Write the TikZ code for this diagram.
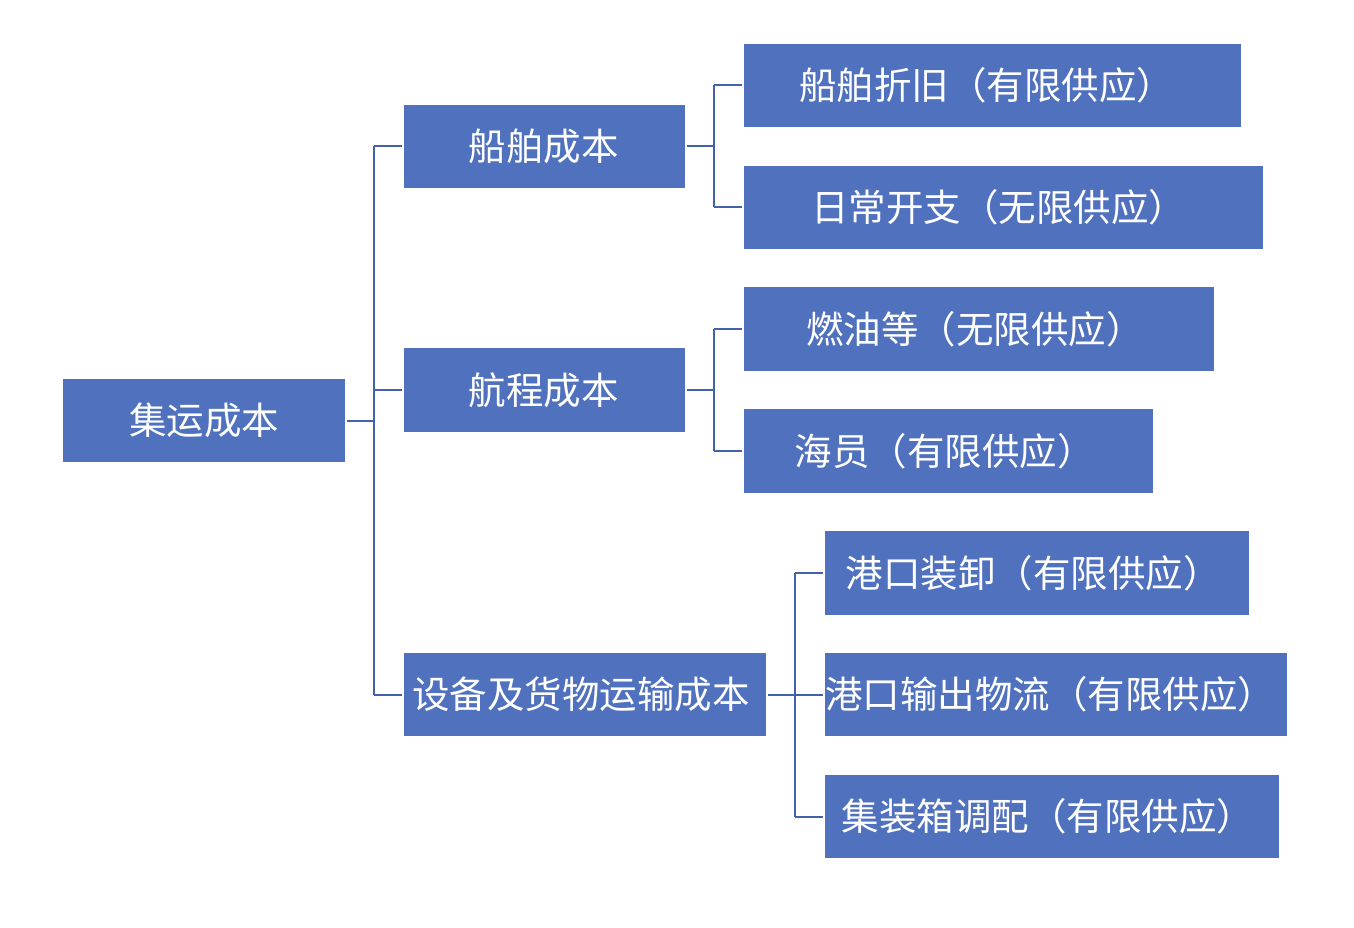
\documentclass[tikz,border=0pt]{standalone}
\usepackage{fontspec}
\setmainfont{Noto Sans CJK SC}
\definecolor{boxblue}{HTML}{5071BE}
\definecolor{lineblue}{HTML}{4262AA}
\begin{document}
\begin{tikzpicture}[x=1pt,y=-1pt,
  box/.style={fill=boxblue,draw=none,inner sep=0pt,text=white,font=\fontsize{37.5}{42}\selectfont},
  conn/.style={draw=lineblue,line width=2pt}]
\useasboundingbox (0,0) rectangle (1354,928);
% boxes: corners given as pixel coordinates; #7 = small text shift
\newcommand{\bx}[7]{%
  \path[fill=boxblue] (#1,#2) rectangle (#3,#4);
  \node[box,minimum width=#3-#1,minimum height=#4-#2] (#5) at ({(#1+#3)/2},{(#2+#4)/2}) {};
  \node[box,fill=none] at ([xshift=#7]#5.center) {#6};}
\bx{63}{379}{345}{462}{root}{集运成本}{0pt}
\bx{404}{105}{685}{188}{a}{船舶成本}{-1pt}
\bx{404}{348}{685}{432}{b}{航程成本}{-1pt}
\bx{404}{653}{766}{736}{c}{设备及货物运输成本}{-4pt}
\bx{744}{44}{1241}{127}{a1}{船舶折旧（有限供应）}{-6pt}
\bx{744}{166}{1263}{249}{a2}{日常开支（无限供应）}{-5pt}
\bx{744}{287}{1214}{371}{b1}{燃油等（无限供应）}{-4pt}
\bx{744}{409}{1153}{493}{b2}{海员（有限供应）}{-4pt}
\bx{825}{531}{1249}{615}{c1}{港口装卸（有限供应）}{-4pt}
\bx{825}{653}{1287}{736}{c2}{港口输出物流（有限供应）}{-6pt}
\bx{825}{775}{1279}{858}{c3}{集装箱调配（有限供应）}{-4pt}
% connectors
\coordinate (x0) at (374,0);
\coordinate (x1) at (714,0);
\coordinate (x3) at (795,0);
\coordinate (j0) at (x0 |- root.east);
\coordinate (j1) at (x1 |- a.east);
\coordinate (j2) at (x1 |- b.east);
\coordinate (j3) at (x3 |- c.east);
\draw[conn] ([xshift=2pt]root.east) -- (j0);
\draw[conn] (j0 |- a.west) -- (j0 |- c.west);
\foreach \t in {a,b,c} \draw[conn] (j0 |- \t.west) -- ([xshift=-2pt]\t.west);
\draw[conn] ([xshift=2pt]a.east) -- (j1);
\draw[conn] (j1 |- a1.west) -- (j1 |- a2.west);
\foreach \t in {a1,a2} \draw[conn] (j1 |- \t.west) -- ([xshift=-2pt]\t.west);
\draw[conn] ([xshift=2pt]b.east) -- (j2);
\draw[conn] (j2 |- b1.west) -- (j2 |- b2.west);
\foreach \t in {b1,b2} \draw[conn] (j2 |- \t.west) -- ([xshift=-2pt]\t.west);
\draw[conn] ([xshift=2pt]c.east) -- (j3);
\draw[conn] (j3 |- c1.west) -- (j3 |- c3.west);
\foreach \t in {c1,c2,c3} \draw[conn] (j3 |- \t.west) -- ([xshift=-2pt]\t.west);
\end{tikzpicture}
\end{document}
